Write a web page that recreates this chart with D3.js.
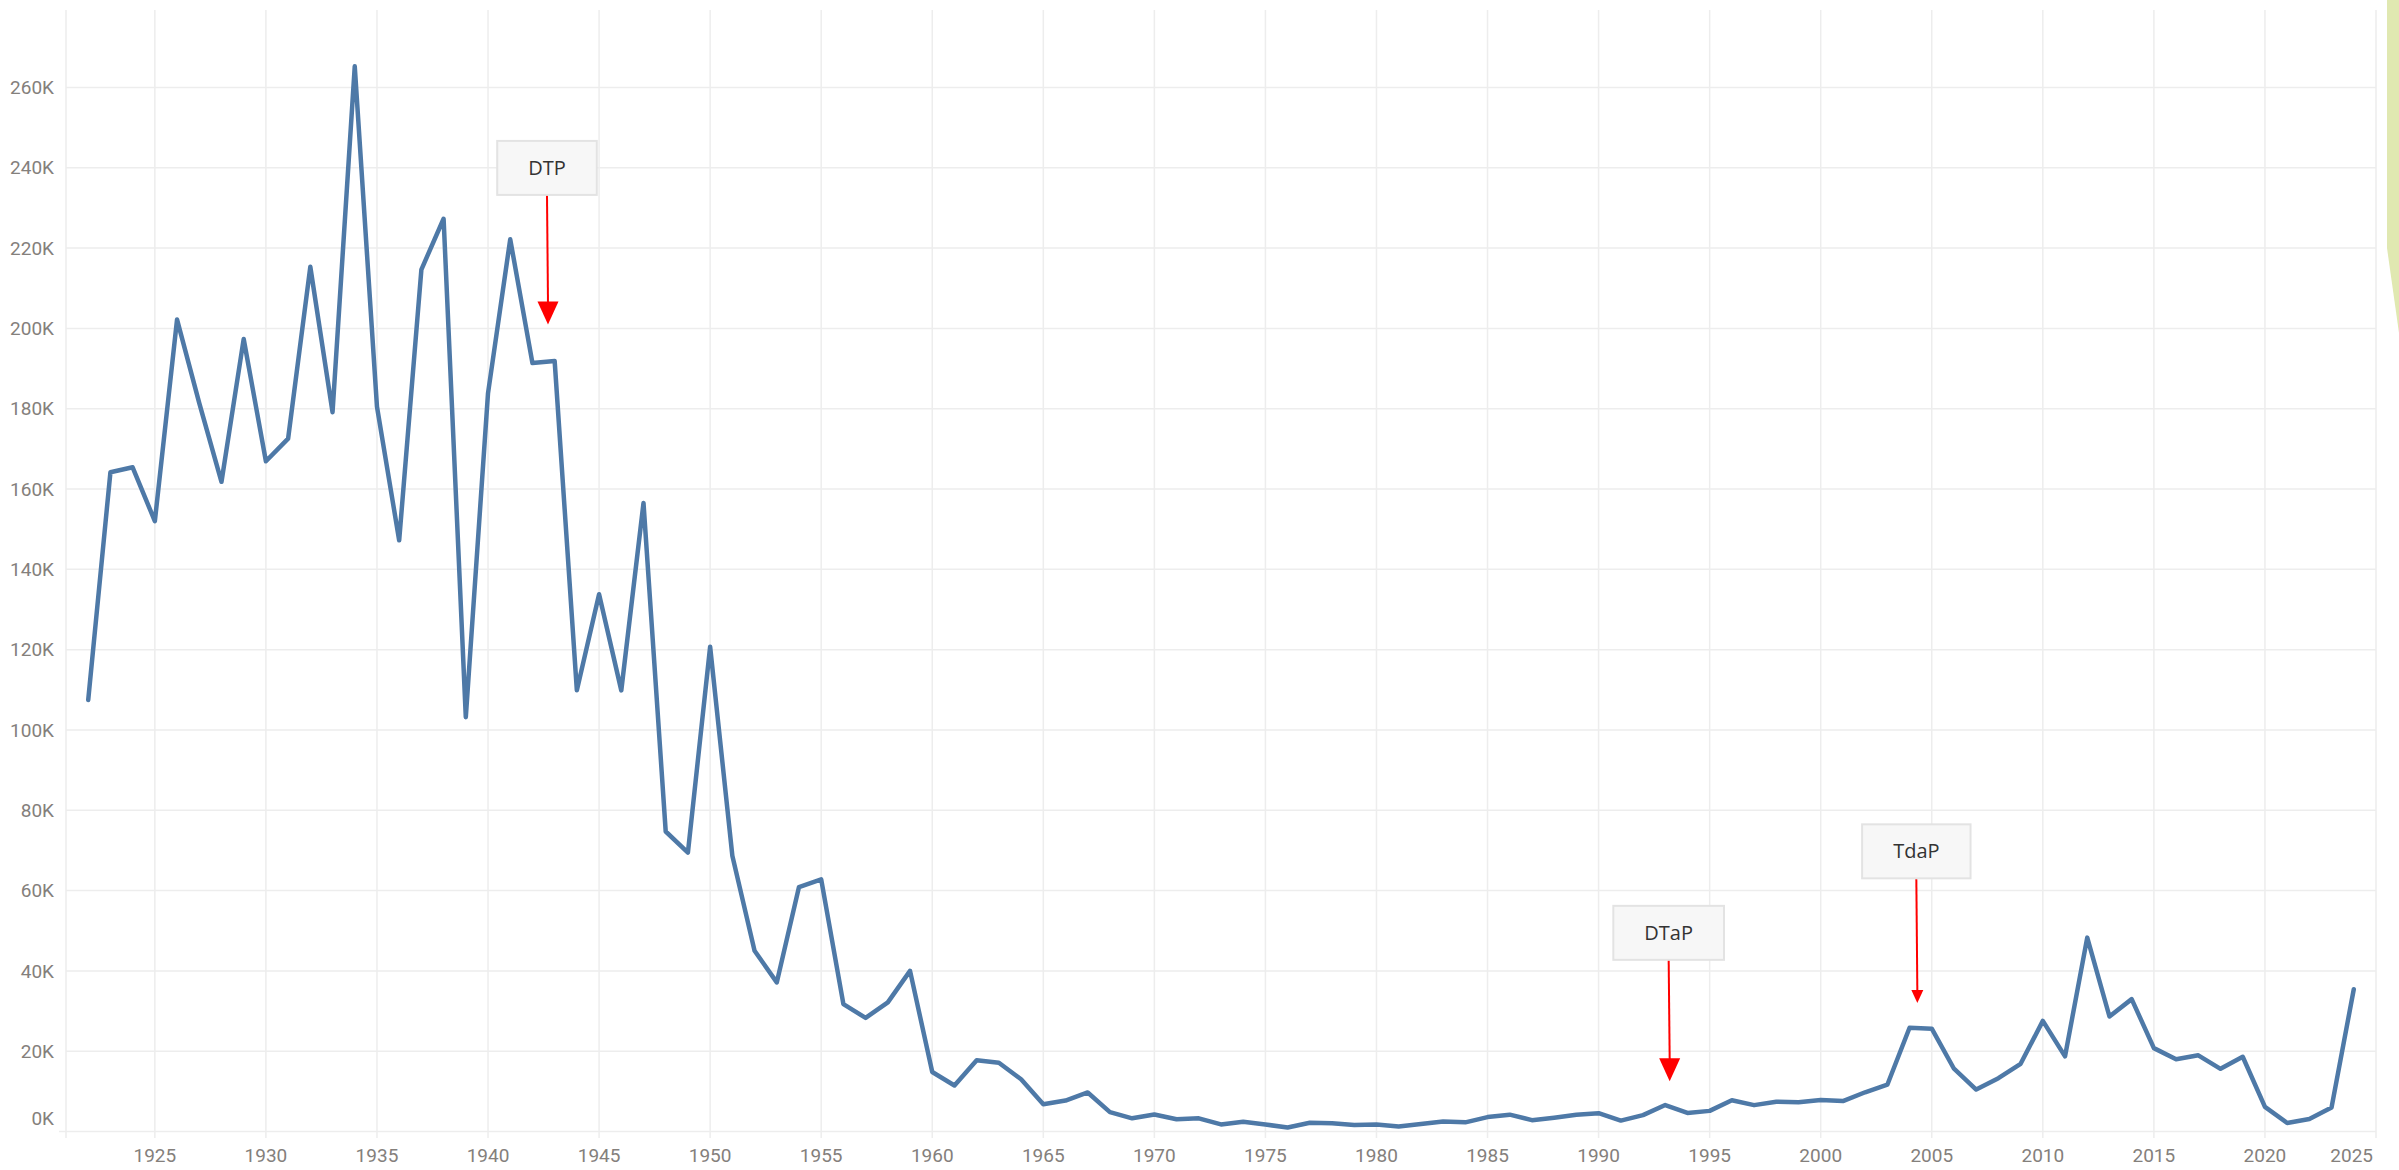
<!DOCTYPE html>
<html>
<head>
<meta charset="utf-8">
<script src="https://cdn.jsdelivr.net/npm/d3@7"></script>
<style>
    body { margin: 0; background: #fff; }
    svg { display: block; }
    .tick-label { font-family: Roboto, 'Liberation Sans', sans-serif; font-size: 19px; fill: #84807c; }
    .anno-text { font-family: 'Open Sans', 'Noto Sans', sans-serif; font-size: 20px; fill: #333; }
</style>
</head>
<body>
<div id="chart"></div>
<script>
// pertussis cases per year
const years = d3.range(1922, 2025);
const cases = [
    107473, 164191, 165418, 152003, 202210, 181411, 161799, 197371, 166914, 172559,
    215343, 179135, 265269, 180518, 147237, 214652, 227319, 103188, 183866, 222202,
    191383, 191890, 109873, 133792, 109860, 156517, 74715, 69479, 120718, 68687,
    45030, 37129, 60886, 62786, 31732, 28295, 32148, 40005, 14809, 11468,
    17749, 17135, 13005, 6799, 7717, 9718, 4810, 3285, 4249, 3036,
    3287, 1759, 2402, 1738, 1010, 2177, 2063, 1623, 1730, 1248,
    1895, 2463, 2276, 3589, 4195, 2823, 3450, 4157, 4570, 2719,
    4083, 6586, 4617, 5137, 7796, 6564, 7405, 7288, 7867, 7580,
    9771, 11647, 25827, 25616, 15632, 10454, 13278, 16858, 27550, 18719,
    48277, 28639, 32971, 20762, 17972, 18975, 15609, 18617, 6124, 2116,
    3100, 6000, 35435
];

const xTicks = d3.range(1925, 2026, 5);
const yTicks = d3.range(0, 260001, 20000);

// annotations: label, arrow tip (year, value), box top value
const annoLabels = ['DTP', 'DTaP', 'TdaP'];
const annoYears = [1942.7, 1993.2, 2004.35];
const annoTips = [201000, 12500, 32000];
const annoBoxTops = [246700, 56200, 76500];
const annoHeadScale = [1, 1, 0.57];

const svgWidth = 2399;
const svgHeight = 1170;
const plotTop = 10;
const plotBottom = 1138;

const svg = d3
    .select('#chart')
    .append('svg')
    .attr('width', svgWidth)
    .attr('height', svgHeight);

const x = d3.scaleLinear().domain([1921, 2025]).range([66, 2376]);
const y = d3.scaleLinear().domain([0, 260000]).range([1131.5, 87.5]);

// grid
const grid = svg.append('g').attr('stroke', '#ededed').attr('stroke-width', 1.5);

grid.selectAll('line.h')
    .data(yTicks)
    .enter()
    .append('line')
    .attr('class', 'h')
    .attr('x1', d => (d === 0 ? 59 : x(1921)))
    .attr('x2', x(2025))
    .attr('y1', d => y(d))
    .attr('y2', d => y(d));

grid.selectAll('line.v')
    .data([1921, ...xTicks])
    .enter()
    .append('line')
    .attr('class', 'v')
    .attr('x1', d => x(d))
    .attr('x2', d => x(d))
    .attr('y1', plotTop)
    .attr('y2', plotBottom);

// y axis labels
svg.append('g')
    .selectAll('text')
    .data(yTicks)
    .enter()
    .append('text')
    .attr('class', 'tick-label')
    .attr('x', 54)
    .attr('y', d => (d === 0 ? y(d) - 13 : y(d)))
    .attr('dy', '0.35em')
    .attr('text-anchor', 'end')
    .text(d => d / 1000 + 'K');

// x axis labels
const lastTick = xTicks[xTicks.length - 1];
svg.append('g')
    .selectAll('text')
    .data(xTicks)
    .enter()
    .append('text')
    .attr('class', 'tick-label')
    .attr('x', d => (d === lastTick ? x(d) - 3 : x(d)))
    .attr('y', 1155)
    .attr('dy', '0.35em')
    .attr('text-anchor', d => (d === lastTick ? 'end' : 'middle'))
    .text(d => d);

// the line
const data = years.map((yr, i) => ({ year: yr, value: cases[i] }));

svg.append('path')
    .datum(data)
    .attr('fill', 'none')
    .attr('stroke', '#4e79a7')
    .attr('stroke-width', 4.5)
    .attr('stroke-linejoin', 'round')
    .attr('stroke-linecap', 'round')
    .attr('d', d3.line().x(d => x(d.year)).y(d => y(d.value)));

// annotations
const annos = annoLabels.map((label, i) => ({
    label,
    year: annoYears[i],
    tip: annoTips[i],
    top: annoBoxTops[i],
    s: annoHeadScale[i]
}));

const boxH = 54;
const ag = svg.selectAll('g.anno')
    .data(annos)
    .enter()
    .append('g')
    .attr('class', 'anno');

ag.append('line')
    .attr('x1', d => x(d.year) - 1)
    .attr('x2', d => x(d.year))
    .attr('y1', d => y(d.top) + boxH)
    .attr('y2', d => y(d.tip) - 22 * d.s)
    .attr('stroke', '#ff0000')
    .attr('stroke-width', 2);

ag.append('path')
    .attr('fill', '#ff0000')
    .attr('d', d => {
        const tx = x(d.year);
        const ty = y(d.tip);
        const hw = 10.5 * d.s;
        const hh = 23 * d.s;
        return `M${tx - hw},${ty - hh}L${tx + hw},${ty - hh}L${tx},${ty}Z`;
    });

ag.append('text')
    .attr('class', 'anno-text')
    .attr('x', d => x(d.year) - 1)
    .attr('y', d => y(d.top) + boxH / 2)
    .attr('dy', '0.35em')
    .attr('text-anchor', 'middle')
    .text(d => d.label);

ag.insert('rect', 'text')
    .attr('fill', '#f7f7f7')
    .attr('stroke', '#e3e3e3')
    .attr('stroke-width', 2)
    .attr('y', d => y(d.top))
    .attr('height', boxH)
    .each(function(d) {
        const w = this.parentNode.querySelector('text').getComputedTextLength() + 62;
        d3.select(this).attr('x', x(d.year) - 1 - w / 2).attr('width', w);
    });

// green shape at top right edge
svg.append('path')
    .attr('fill', '#e0e8b1')
    .attr('d', 'M2387,0L2399,0L2399,333L2387,248Z');
</script>
</body>
</html>
